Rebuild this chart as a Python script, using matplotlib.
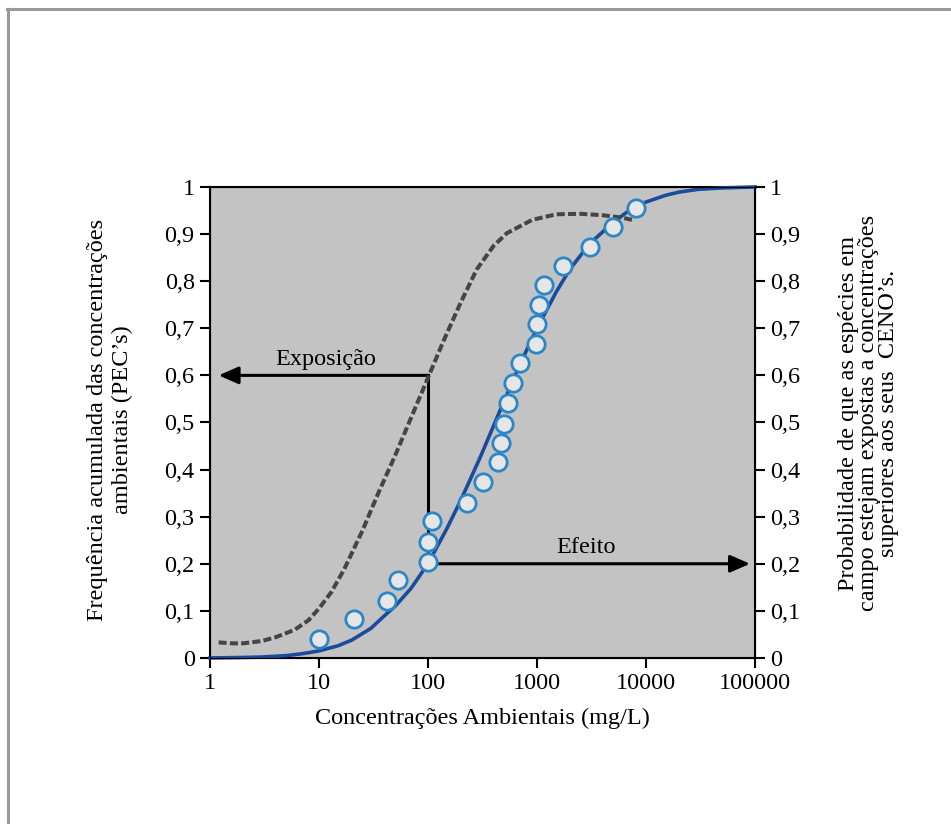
import numpy as np
import matplotlib
matplotlib.use("Agg")
import matplotlib.pyplot as plt
from matplotlib.lines import Line2D

# observed points (CENO's)
pts_x = [10, 21, 42, 53, 100, 100, 109, 229, 318, 442, 464, 502, 538, 606, 700, 975, 993, 1050, 1158, 1733, 3090, 4940, 8100]
pts_y = [0.040, 0.083, 0.122, 0.166, 0.203, 0.247, 0.290, 0.330, 0.373, 0.415, 0.457, 0.497, 0.542, 0.583, 0.627, 0.667, 0.708, 0.750, 0.792, 0.833, 0.873, 0.915, 0.956]

# fitted effect curve (solid blue)
fit_x = [1, 2, 3, 5, 7, 10, 15, 20, 30, 40, 50, 70, 100, 150, 200, 300, 400, 500, 700,
         1000, 1500, 2000, 3000, 5000, 7000, 10000, 15000, 20000, 30000, 50000, 100000]
fit_y = [0.0, 0.001, 0.002, 0.005, 0.009, 0.015, 0.026, 0.038, 0.063, 0.090, 0.110, 0.148,
         0.200, 0.276, 0.335, 0.425, 0.493, 0.546, 0.624, 0.700, 0.777, 0.825, 0.878, 0.925,
         0.950, 0.968, 0.982, 0.989, 0.995, 0.998, 1.0]

# exposure curve (dashed)
exp_x = [1.2, 1.6, 2, 3, 4, 6, 8, 10, 13, 17, 25, 35, 50, 70, 100, 140, 200, 280,
         400, 530, 900, 1500, 2500, 4000, 6000, 7500]
exp_y = [0.033, 0.031, 0.031, 0.036, 0.044, 0.060, 0.080, 0.105, 0.140, 0.188, 0.270, 0.350,
         0.430, 0.510, 0.595, 0.675, 0.755, 0.825, 0.875, 0.902, 0.930, 0.942, 0.943,
         0.940, 0.935, 0.930]

x_ticks = [1, 10, 100, 1000, 10000, 100000]
y_ticks = [0, 0.1, 0.2, 0.3, 0.4, 0.5, 0.6, 0.7, 0.8, 0.9, 1]
y_labels = ["0", "0,1", "0,2", "0,3", "0,4", "0,5", "0,6", "0,7", "0,8", "0,9", "1"]

plt.rcParams['font.family'] = ['Liberation Serif', 'DejaVu Serif']
plt.rcParams['font.size'] = 17.5

fig = plt.figure(figsize=(9.51, 8.24), dpi=100)
ax = fig.add_axes([0.2208, 0.2015, 0.5731, 0.5716])
ax.set_facecolor('#c3c3c3')

# outer frame (left and top only)
fig.add_artist(Line2D([0.0084, 0.0084], [0.0, 0.989], transform=fig.transFigure, color='#9a9a9a', lw=2.2))
fig.add_artist(Line2D([0.0074, 1.0], [0.989, 0.989], transform=fig.transFigure, color='#9a9a9a', lw=2.2))

ax.set_xscale('log')
ax.set_xlim(1, 100000)
ax.set_ylim(0, 1)

# arrows
arrow = dict(arrowstyle='-|>,head_length=0.8,head_width=0.35', lw=2.2, color='black',
             mutation_scale=15, shrinkA=0, shrinkB=0)
ax.plot([100, 100], [0.6, 0.2], color='black', lw=2.2, zorder=2, solid_capstyle='projecting')
ax.annotate('', xy=(1.2, 0.6), xytext=(100, 0.6), arrowprops=arrow, zorder=2)
ax.annotate('', xy=(90000, 0.2), xytext=(100, 0.2), arrowprops=arrow, zorder=2)
ax.text(11.5, 0.634, 'Exposição', ha='center', va='center')
ax.text(2800, 0.234, 'Efeito', ha='center', va='center')

ax.plot(fit_x, fit_y, color='#1b4b9b', lw=2.6, zorder=3, clip_on=False)
ax.plot(exp_x, exp_y, color='#454545', lw=2.9, linestyle=(0, (2.0, 0.8)), zorder=4)
ax.plot(pts_x, pts_y, linestyle='none', marker='o', markersize=12.5, markerfacecolor='#e6e6e6',
        markeredgecolor='#2d86c6', markeredgewidth=2.0, zorder=5, clip_on=False)

ax.set_xticks(x_ticks)
ax.set_xticklabels([str(v) for v in x_ticks])
ax.minorticks_off()
ax.set_yticks(y_ticks)
ax.set_yticklabels(y_labels)
ax.tick_params(direction='out', length=7, width=1.5, pad=4)
for s in ax.spines.values():
    s.set_linewidth(1.5)

ax2 = ax.twinx()
ax2.set_ylim(0, 1)
ax2.set_yticks(y_ticks)
ax2.set_yticklabels(y_labels)
ax2.tick_params(direction='out', length=7, width=1.5, pad=4)

ax.set_xlabel('Concentrações Ambientais (mg/L)', labelpad=10)
ax.set_ylabel('Frequência acumulada das concentrações\nambientais (PEC’s)', linespacing=1.2)
ax.yaxis.set_label_coords(-0.142, 0.505)
ax2.set_ylabel('Probabilidade de que as espécies em\ncampo estejam expostas a concentrações\nsuperiores aos seus  CENO’s.',
               rotation=90, linespacing=0.92)
ax2.yaxis.set_label_coords(1.153, 0.52)

fig.savefig('out.png', dpi=100, facecolor='white')
